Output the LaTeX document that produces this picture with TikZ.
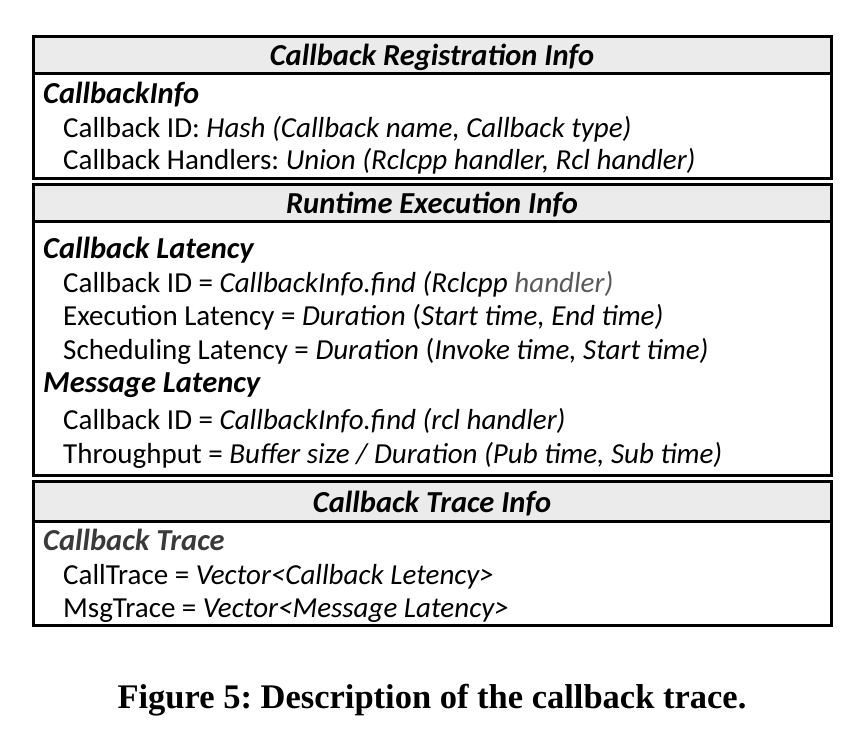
\documentclass[tikz,border=0pt]{standalone}
\usepackage{fontspec}
\setmainfont{Carlito}
\newfontfamily\capfont{Liberation Serif}
\definecolor{hdrgray}{HTML}{EBEBEB}
\definecolor{softgray}{HTML}{595959}
\definecolor{darkgray}{HTML}{3A3A3A}
\begin{document}
\frenchspacing
\begin{tikzpicture}[x=1pt,y=-1pt,
  boxline/.style={line width=3pt,draw=black},
  hdrtext/.style={anchor=base,font=\fontsize{30.5}{34}\selectfont\bfseries\itshape,inner sep=0pt},
  subtext/.style={anchor=base west,font=\fontsize{30.5}{34}\selectfont\bfseries\itshape,inner sep=0pt},
  itemtext/.style={anchor=base west,font=\fontsize{29}{34}\selectfont,inner sep=0pt}]
\useasboundingbox (0,0) rectangle (865,733);

% Section 1: registration
\fill[hdrgray] (33.5,37) rectangle (831.5,74);
\draw[boxline] (33.5,37) rectangle (831.5,178.5);
\draw[boxline] (33.5,74) -- (831.5,74);
\node[hdrtext] (h1) at (432,66) {Callback Registration Info};
\node[subtext] (s1) at (43,104) {CallbackInfo};
\node[itemtext] (a1) at (63,138) {Callback ID: \textit{Hash (Callback name, Callback type)}};
\node[itemtext] (a2) at (63,169.5) {Callback Handlers: \textit{Union (Rclcpp handler, Rcl handler)}};

% Section 2: runtime execution
\fill[hdrgray] (33.5,184.5) rectangle (831.5,221.5);
\draw[boxline] (33.5,184.5) rectangle (831.5,475.5);
\draw[boxline] (33.5,221.5) -- (831.5,221.5);
\node[hdrtext] (h2) at (432,213.5) {Runtime Execution Info};
\node[subtext] (s2) at (43,258.5) {Callback Latency};
\node[itemtext] (b1) at (63,292.5) {Callback ID = \textit{CallbackInfo.find (Rclcpp \textcolor{softgray}{handler)}}};
\node[itemtext] (b2) at (63,325.5) {Execution Latency = \textit{Duration} (\textit{Start time, End time)}};
\node[itemtext] (b3) at (63,359.5) {Scheduling Latency = \textit{Duration} (\textit{Invoke time, Start time)}};
\node[subtext] (s3) at (43,392.5) {Message Latency};
\node[itemtext] (b4) at (63,429.5) {Callback ID = \textit{CallbackInfo.find (rcl handler)}};
\node[itemtext] (b5) at (63,463.5) {Throughput = \textit{Buffer size / Duration (Pub time, Sub time)}};

% Section 3: trace
\fill[hdrgray] (33.5,481.5) rectangle (831.5,521);
\draw[boxline] (33.5,481.5) rectangle (831.5,625.5);
\draw[boxline] (33.5,521) -- (831.5,521);
\node[hdrtext] (h3) at (432,512) {Callback Trace Info};
\node[subtext,text=darkgray] (s4) at (43,550.5) {Callback Trace};
\node[itemtext] (c1) at (63,584.5) {CallTrace = \textit{Vector<Callback Letency>}};
\node[itemtext] (c2) at (63,617.5) {MsgTrace = \textit{Vector<Message Latency>}};

% Caption
\node[anchor=base,inner sep=0pt,font=\capfont\fontsize{34.5}{38}\selectfont\bfseries] (cap) at (432,708) {Figure 5: Description of the callback trace.};
\end{tikzpicture}
\end{document}
